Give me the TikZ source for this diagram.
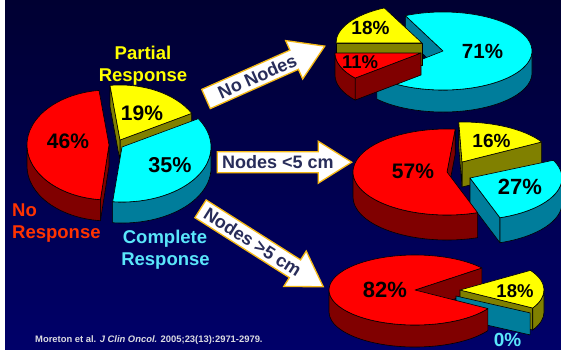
\documentclass[tikz,border=0pt]{standalone}
\usepackage{fontspec}
\setmainfont{Liberation Sans}

\definecolor{bgtop}{RGB}{0,0,50}
\definecolor{bgbot}{RGB}{0,0,105}
\definecolor{redtop}{RGB}{255,0,0}
\definecolor{redside}{RGB}{128,0,0}
\definecolor{yeltop}{RGB}{255,255,0}
\definecolor{yelside}{RGB}{128,128,0}
\definecolor{cyntop}{RGB}{0,255,255}
\definecolor{cynside}{RGB}{0,125,155}
\definecolor{labred}{RGB}{255,51,0}
\definecolor{labyellow}{RGB}{255,255,0}
\definecolor{labcyan}{RGB}{90,230,250}
\definecolor{arrowedge}{RGB}{245,185,20}
\definecolor{arrowink}{RGB}{40,45,90}
\definecolor{citeink}{RGB}{220,220,225}

\newcommand\bfsize[1]{\bfseries\fontsize{#1}{#1}\selectfont}

% radii and thickness of the pie in use
\newcommand\pieradii[3]{\def\prx{#1pt}\def\pry{#2pt}\def\pdepth{#3pt}}

% radial cut face of a slice: centre, angle, colour
\newcommand\cutface[3]{%
  \begin{scope}[shift={(#1)}]
    \filldraw[pieedge, fill=#3] (0,0) -- (#2:{\prx} and {\pry}) -- ++(0,-\pdepth) -- (0,-\pdepth) -- cycle;
  \end{scope}}

% outer curved wall of a slice: centre, from angle, to angle, colour
\newcommand\sidewall[4]{%
  \begin{scope}[shift={(#1)}]
    \filldraw[pieedge, fill=#4] (#2:{\prx} and {\pry})
      arc[start angle=#2, end angle=#3, x radius=\prx, y radius=\pry]
      -- ++(0,-\pdepth)
      arc[start angle=#3, end angle=#2, x radius=\prx, y radius=\pry] -- cycle;
  \end{scope}}

% top face of a slice: centre, start angle, end angle, colour
\newcommand\topface[4]{%
  \begin{scope}[shift={(#1)}]
    \filldraw[pieedge, fill=#4] (0,0) -- (#2:{\prx} and {\pry})
      arc[start angle=#2, end angle=#3, x radius=\prx, y radius=\pry] -- cycle;
  \end{scope}}

% block arrow with its label: name, tail middle, angle, length, label position, text
\newcommand\flowarrow[6]{%
  \begin{scope}[shift={(#2)}, rotate=#3]
    \filldraw[arrowbody] (0,-10.5) -- ({#4-33.5},-10.5) -- ({#4-33.5},-21) -- (#4,0)
      -- ({#4-33.5},21) -- ({#4-33.5},10.5) -- (0,10.5) -- cycle;
    \node[arrowlabel, rotate=#3] (#1) at (#5,-6.5) {#6};
  \end{scope}}

\begin{document}
\begin{tikzpicture}[x=1pt,y=1pt,
  pieedge/.style={draw=black, line width=0.6pt, line join=round},
  pct/.style={inner sep=0pt, anchor=base, text=black},
  caption/.style={inner sep=0pt, anchor=base, font=\bfsize{18.5}},
  arrowbody/.style={fill=white, draw=arrowedge, line width=1.3pt, line join=miter},
  arrowlabel/.style={inner sep=0pt, anchor=base, text=arrowink, font=\bfsize{18}}]

\useasboundingbox (0,0) rectangle (561,-349);
% white margin on the left, navy gradient built from thin bands
\fill[white] (0,0) rectangle (561,-349);
\foreach \i [evaluate=\i as \p using {\i*100/69}] in {0,...,69}
  \fill[bgbot!\p!bgtop] (5,{-\i*5}) rectangle (561,{-\i*5-5.3});

% ---------- overall response pie ----------
\coordinate (mainY) at (120,-140);
\coordinate (mainR) at (109,-145);
\coordinate (mainC) at (122,-147);
\pieradii{82}{55}{21}
\cutface{mainY}{29}{yelside}
\cutface{mainY}{97}{yelside}
\topface{mainY}{29}{97}{yeltop}
\cutface{mainR}{264}{redside}
\sidewall{mainR}{180}{264}{redside}
\topface{mainR}{97}{264}{redtop}
\pieradii{89}{55}{21}
\sidewall{mainC}{264}{360}{cynside}
\topface{mainC}{-96}{31}{cyntop}

\node[pct, font=\bfsize{21}] (p46) at (68,-148) {46\%};
\node[pct, font=\bfsize{21}] (p19) at (142,-120) {19\%};
\node[pct, font=\bfsize{21.5}] (p35) at (170,-172) {35\%};

\node[caption, text=labyellow] (partial1) at (143,-59.5) {Partial};
\node[caption, text=labyellow] (partial2) at (143,-81.5) {Response};
\node[caption, text=labred, anchor=base west] (none1) at (12,-216) {No};
\node[caption, text=labred, anchor=base west] (none2) at (12,-238.3) {Response};
\node[caption, text=labcyan] (complete1) at (165,-243.3) {Complete};
\node[caption, text=labcyan] (complete2) at (165.5,-265.6) {Response};

% ---------- no nodes ----------
\coordinate (topC) at (443,-51);
\coordinate (topY) at (422,-43);
\coordinate (topR) at (421,-53);
\pieradii{89}{39}{22}
\cutface{topC}{115}{cynside}
\sidewall{topC}{222}{360}{cynside}
\topface{topC}{222}{475}{cyntop}
\pieradii{86}{39}{22}
\cutface{topY}{180}{yelside}
\topface{topY}{116}{180}{yeltop}
\cutface{topR}{220}{redside}
\sidewall{topR}{180}{220}{redside}
\topface{topR}{180}{220}{redtop}

\node[pct, font=\bfsize{19}] (t18) at (370.5,-34) {18\%};
\node[pct, font=\bfsize{18.5}] (t11) at (360,-68) {11\%};
\node[pct, font=\bfsize{20.5}] (t71) at (482.5,-58) {71\%};

% ---------- nodes < 5 cm ----------
\coordinate (midY) at (462,-162);
\coordinate (midC) at (470,-178);
\coordinate (midR) at (447,-172);
\pieradii{92}{40}{25}
\cutface{midY}{30}{yelside}
\cutface{midY}{92}{yelside}
\topface{midY}{30}{92}{yeltop}
\pieradii{92}{42}{25}
\cutface{midC}{-71}{cynside}
\sidewall{midC}{289}{360}{cynside}
\topface{midC}{-71}{25}{cyntop}
\pieradii{94}{43}{25}
\cutface{midR}{85}{redside}
\sidewall{midR}{180}{289}{redside}
\topface{midR}{85}{289}{redtop}

\node[pct, font=\bfsize{21}] (m57) at (413,-178) {57\%};
\node[pct, font=\bfsize{19}] (m16) at (491.5,-147) {16\%};
\node[pct, font=\bfsize{22}] (m27) at (520,-194) {27\%};

% ---------- nodes > 5 cm ----------
\coordinate (lowR) at (415,-290);
\coordinate (lowY) at (460,-290);
\coordinate (lowC) at (456,-296);
\pieradii{86}{35}{22}
\cutface{lowR}{39}{redside}
\pieradii{84}{36}{22}
\cutface{lowY}{-30}{yelside}
\sidewall{lowY}{330}{360}{yelside}
\topface{lowY}{-30}{33}{yeltop}
\cutface{lowC}{-28}{cynside}
\pieradii{86}{35}{22}
\sidewall{lowR}{180}{328}{redside}
\topface{lowR}{39}{328}{redtop}

\node[pct, font=\bfsize{22}] (l82) at (385,-297) {82\%};
\node[pct, font=\bfsize{18.5}] (l18) at (515,-297) {18\%};
\node[pct, font=\bfsize{19}, text=labcyan] (l0) at (507.5,-346) {0\%};

% ---------- arrows ----------
\flowarrow{nonodes}{206,-99}{24}{130}{56}{No Nodes}
\flowarrow{small}{217.3,-162.2}{0}{134.4}{60.6}{Nodes <5 cm}
\flowarrow{large}{200.5,-208.8}{-32.4}{145.4}{62}{Nodes >5 cm}

% ---------- source ----------
\node[inner sep=0pt, anchor=base west, text=citeink, font=\bfsize{9.4}] (cite) at (35,-342)
  {Moreton et al. \textit{J Clin Oncol.} 2005;23(13):2971-2979.};
\end{tikzpicture}
\end{document}
